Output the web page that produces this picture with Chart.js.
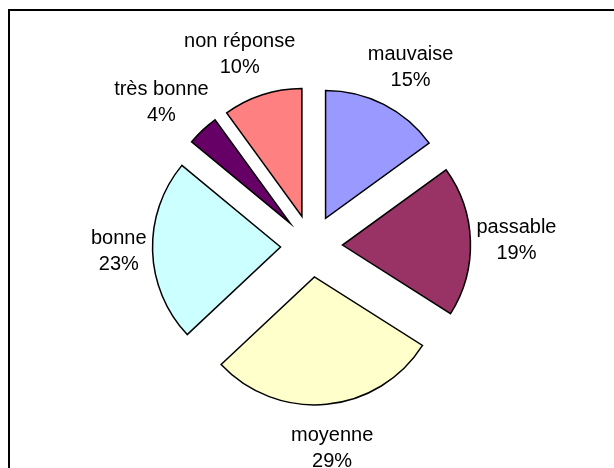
<!DOCTYPE html>
<html lang="fr">
<head>
<meta charset="UTF-8">
<title>Graphique</title>
<script src="https://cdn.jsdelivr.net/npm/chart.js"></script>
<style>
    body { margin: 0; overflow: hidden; background: #fff; }
    #cadre { position: absolute; left: 8px; top: 9px; width: 700px; height: 600px; border: 2px solid #000; }
    #graphique { position: absolute; left: 0; top: 0; }
</style>
</head>
<body>
<div id="cadre"></div>
<canvas id="graphique" width="614" height="468"></canvas>
<script>
    var categories = ['mauvaise', 'passable', 'moyenne', 'bonne', 'très bonne', 'non réponse'];
    var valeurs = [15, 19, 29, 23, 4, 10];
    var couleurs = ['#9999FF', '#993366', '#FFFFCC', '#CCFFFF', '#660066', '#FF8080'];

    var eclat = 31; // ecartement des parts (px)

    // le offset natif de chart.js est divise par 4 et grossit les petites parts,
    // on deplace donc chaque part nous-memes le long de son angle median
    const exploser = {
        id: 'exploser',
        afterDatasetsUpdate(chart) {
            chart.getDatasetMeta(0).data.forEach((arc) => {
                const mid = (arc.startAngle + arc.endAngle) / 2;
                arc.x += Math.cos(mid) * eclat;
                arc.y += Math.sin(mid) * eclat;
            });
        }
    };

    // etiquettes "nom / pourcentage" a l'exterieur de chaque part
    const etiquettes = {
        id: 'etiquettes',
        afterDatasetsDraw(chart) {
            const ctx = chart.ctx;
            const area = chart.chartArea;
            const x0 = (area.left + area.right) / 2;
            const y0 = (area.top + area.bottom) / 2;
            const meta = chart.getDatasetMeta(0);
            const total = valeurs.reduce((a, b) => a + b, 0);
            ctx.save();
            ctx.font = '20px "Liberation Sans", Arial, sans-serif';
            ctx.fillStyle = '#000';
            ctx.textAlign = 'center';
            ctx.textBaseline = 'middle';
            meta.data.forEach((arc, i) => {
                const mid = (arc.startAngle + arc.endAngle) / 2;
                const dx = Math.cos(mid), dy = Math.sin(mid);
                const l1 = categories[i];
                const l2 = Math.round(valeurs[i] / total * 100) + '%';
                const w = Math.max(ctx.measureText(l1).width, ctx.measureText(l2).width);
                const h = 50;
                const ra = Math.sqrt(Math.pow(165 * dx, 2) + Math.pow(178 * dy, 2));
                const cx = x0 + dx * ra + dx * w / 2;
                const cy = y0 + dy * ra + dy * h / 2;
                ctx.fillText(l1, cx, cy - 13);
                ctx.fillText(l2, cx, cy + 13);
            });
            ctx.restore();
        }
    };

    new Chart(document.getElementById('graphique'), {
        type: 'pie',
        data: {
            labels: categories,
            datasets: [{
                data: valeurs,
                backgroundColor: couleurs,
                borderColor: '#000',
                borderWidth: 1.5,
                borderJoinStyle: 'miter'
            }]
        },
        options: {
            responsive: false,
            animation: false,
            events: [],
            radius: 128,
            layout: { padding: { left: 9, top: 24 } },
            plugins: {
                legend: { display: false },
                tooltip: { enabled: false }
            }
        },
        plugins: [exploser, etiquettes]
    });
</script>
</body>
</html>
